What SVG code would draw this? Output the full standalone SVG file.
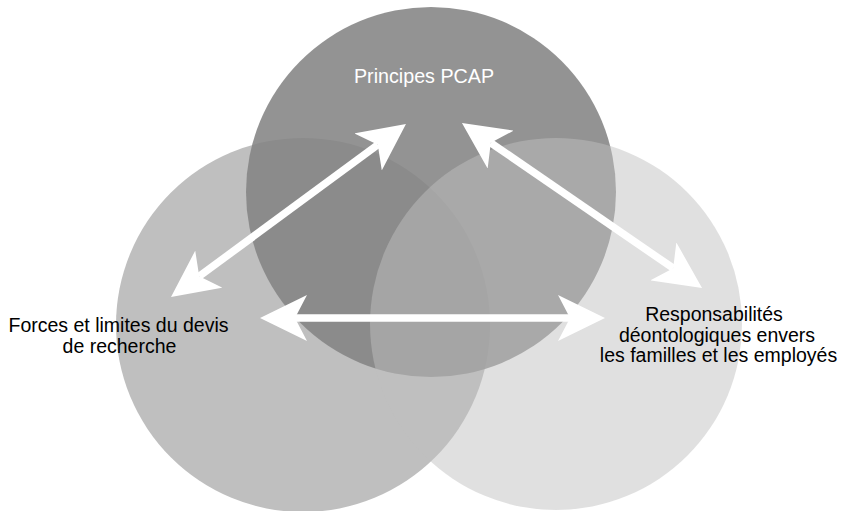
<svg xmlns="http://www.w3.org/2000/svg" width="849" height="511" viewBox="0 0 849 511">
  <style>
    .lbl { font-family: "Liberation Sans", Arial, Helvetica, sans-serif; font-size: 19.5px; fill: #000000; text-anchor: middle; }
    .lbl-w { font-family: "Liberation Sans", Arial, Helvetica, sans-serif; font-size: 19.7px; fill: #ffffff; text-anchor: middle; }
    .conn { stroke: #ffffff; stroke-width: 7.5; fill: none; stroke-linecap: butt; marker-start: url(#head); marker-end: url(#head); }
  </style>
  <defs>
    <marker id="head" markerUnits="userSpaceOnUse" viewBox="0 0 47 46" markerWidth="47" markerHeight="46" refX="12" refY="23" orient="auto-start-reverse">
      <path d="M0,0 L47,23 L0,46 L12,23 Z" fill="#ffffff"/>
    </marker>
  </defs>
  <rect width="849" height="511" fill="#ffffff"/>
  <g id="node-forces">
    <circle cx="303" cy="325" r="187" fill="#bfbfbf"/>
    <text class="lbl" x="118.5" y="332">Forces et limites du devis</text>
    <text class="lbl" x="119.5" y="353">de recherche</text>
  </g>
  <g id="node-pcap">
    <circle cx="431" cy="192" r="185" fill="#838383" fill-opacity="0.875"/>
    <text class="lbl-w" x="424" y="83">Principes PCAP</text>
  </g>
  <g id="node-responsabilites">
    <circle cx="556" cy="324" r="186" fill="#bfbfbf" fill-opacity="0.49"/>
    <text class="lbl" x="714" y="321">Responsabilités</text>
    <text class="lbl" x="717" y="341.5">déontologiques envers</text>
    <text class="lbl" x="718.5" y="362">les familles et les employés</text>
  </g>
  <g id="connectors">
    <line class="conn" x1="199.2" y1="276.3" x2="377.8" y2="144.8"/>
    <line class="conn" x1="490.8" y1="142.8" x2="673.2" y2="268.2"/>
    <line class="conn" x1="295" y1="318" x2="570" y2="318"/>
  </g>
</svg>
